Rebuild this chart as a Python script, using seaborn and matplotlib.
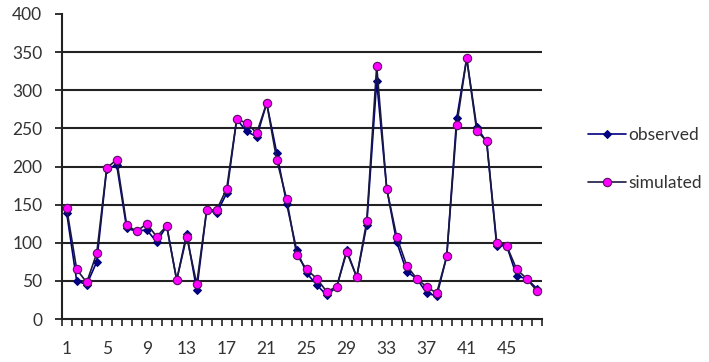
import matplotlib
matplotlib.use("Agg")
import matplotlib.pyplot as plt
import seaborn as sns
import numpy as np
import pandas as pd

periods = list(range(1, 49))
observed = [139, 50, 45, 75, 197, 202, 119, 115, 117, 101, 122, 51,
            112, 38, 143, 139, 165, 262, 246, 239, 283, 218, 151, 90,
            60, 45, 31, 42, 90, 55, 123, 312, 171, 101, 62, 53,
            34, 30, 82, 263, 342, 252, 232, 96, 96, 56, 53, 40]
simulated = [145, 65, 48, 86, 198, 209, 123, 115, 125, 108, 122, 51,
             108, 46, 143, 143, 171, 262, 257, 244, 283, 209, 157, 84,
             65, 53, 36, 42, 88, 55, 128, 332, 171, 108, 70, 53,
             42, 34, 82, 254, 342, 247, 233, 100, 96, 65, 53, 37]
y_ticks = [0, 50, 100, 150, 200, 250, 300, 350, 400]
x_labels = [1, 5, 9, 13, 17, 21, 25, 29, 33, 37, 41, 45]

df = pd.DataFrame({"period": periods, "observed": observed, "simulated": simulated})

sns.set_theme(style="white")
plt.rcParams["font.family"] = ["Lato", "DejaVu Sans"]

fig = plt.figure(figsize=(7.09, 3.62), dpi=100)
ax = fig.add_axes([61.7 / 709, 1 - 319 / 362, 480 / 709, 305 / 362])

sns.lineplot(data=df, x="period", y="observed", ax=ax, color="#000080",
             marker="D", markersize=4.5, markeredgecolor="#000080",
             linewidth=1.2, label="observed")
sns.lineplot(data=df, x="period", y="simulated", ax=ax, color="#1a1a40",
             marker="o", markersize=6, markerfacecolor="#ff00ff",
             markeredgecolor="#5a1060", markeredgewidth=0.8,
             linewidth=1.2, label="simulated")

ax.set_xlim(0.5, 48.5)
ax.set_ylim(0, 400)
ax.set_yticks(y_ticks)
ax.set_xticks(x_labels)
ax.set_xticks(np.arange(0.5, 49, 1), minor=True)
ax.set_xlabel("")
ax.set_ylabel("")

for s in ["top", "right"]:
    ax.spines[s].set_visible(False)
for s in ["left", "bottom"]:
    ax.spines[s].set_color("#222222")
    ax.spines[s].set_linewidth(1.5)

ax.tick_params(axis="y", which="major", direction="out", length=5,
               width=1.3, color="#222222", left=True, pad=9,
               labelsize=12.5, labelcolor="#333333")
ax.tick_params(axis="x", which="major", length=0, pad=16,
               labelsize=12.5, labelcolor="#333333")
ax.tick_params(axis="x", which="minor", direction="out", length=5,
               width=1.2, color="#222222", bottom=True)

ax.yaxis.grid(True, color="#222222", linewidth=1.5)
ax.set_axisbelow(True)
gl = ax.get_ygridlines()
gl[-1].set_visible(False)
gl[0].set_visible(False)

ax.get_legend().remove()
h, l = ax.get_legend_handles_labels()
leg = fig.legend(h, l, loc="center left", bbox_to_anchor=(588 / 709, 1 - 159 / 362),
                 frameon=False, fontsize=12.5, handlelength=2.2,
                 handletextpad=0.1, labelspacing=1.85, borderpad=0,
                 borderaxespad=0)
for t in leg.get_texts():
    t.set_color("#333333")

fig.savefig("out.png", dpi=100)
